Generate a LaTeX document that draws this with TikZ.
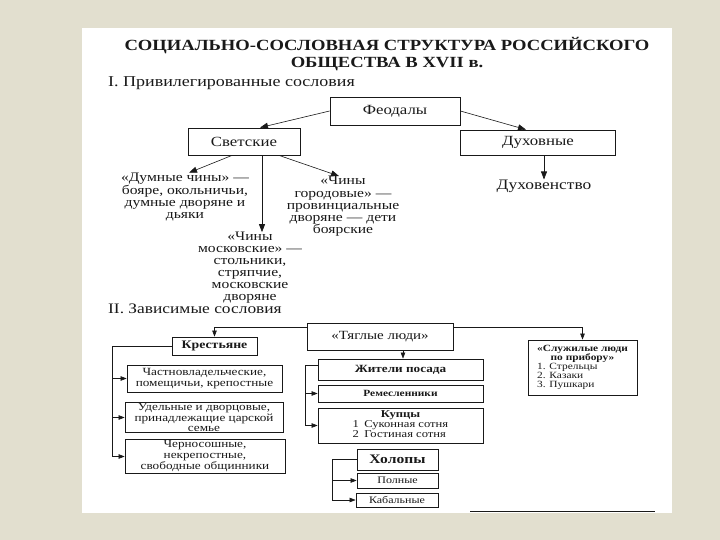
\documentclass[tikz,border=0pt]{standalone}
\usepackage{fontspec}
\setmainfont{Liberation Serif}[FakeStretch=1.2]
\usetikzlibrary{arrows.meta}
\definecolor{bgc}{RGB}{226,223,207}
\definecolor{ink}{RGB}{25,25,25}
\newcommand{\setfs}[2]{\fontsize{#1}{#2}\selectfont}
\begin{document}
\begin{tikzpicture}[x=1pt,y=-1pt,
  every node/.style={text=ink, inner sep=0pt},
  box/.style={draw=ink, line width=0.8pt, align=center, inner sep=1pt},
  lbl/.style={align=center},
  arr/.style={draw=ink, line width=0.6pt, -{Triangle[length=8pt,width=6pt]}},
  arrs/.style={draw=ink, line width=0.6pt, -{Triangle[length=6pt,width=4.5pt]}},
  link/.style={draw=ink, line width=0.6pt}]
\fill[bgc] (0,0) rectangle (720,540);
\fill[white] (82,28) rectangle (672,513);
\useasboundingbox (0,0) rectangle (720,540);

% ---- title
\node[font=\setfs{15.5}{17}\bfseries, align=center] (title) at (387,54)
  {СОЦИАЛЬНО-СОСЛОВНАЯ СТРУКТУРА РОССИЙСКОГО\\ОБЩЕСТВА В XVII в.};

% ---- section I
\node[anchor=west, font=\setfs{15}{16}] (sec1) at (108,83) {I. Привилегированные сословия};
\node[box, minimum width=130, minimum height=28, font=\setfs{14}{15}] (feod) at (395,111) {Феодалы};
\node[box, minimum width=112, minimum height=27, font=\setfs{14}{15}] (svet) at (244,141.5) {Светские};
\node[box, minimum width=155, minimum height=25, font=\setfs{14}{15}] (duh) at (538,142.5) {Духовные};
\node[font=\setfs{14.5}{15}] (duhov) at (544,186) {Духовенство};
\node[lbl, font=\setfs{13}{12}] (dumn) at (185,197) {«Думные чины» —\\бояре, окольничьи,\\думные дворяне и\\дьяки};
\node[lbl, font=\setfs{13}{12.3}] (gorod) at (343,206.5) {«Чины\\городовые» —\\провинциальные\\дворяне — дети\\боярские};
\node[lbl, font=\setfs{13}{12}] (mosk) at (250,268) {«Чины\\московские» —\\стольники,\\стряпчие,\\московские\\дворяне};

\draw[arr] (feod.west) -- ([xshift=16]svet.north);
\draw[arr] (feod.east) -- ([xshift=-12]duh.north);
\draw[arr] (duh.south -| duhov.north) -- (duhov.north);
\draw[arr] ([xshift=-12]svet.south) -- ([xshift=4]dumn.north);
\draw[arr] ([xshift=35]svet.south) -- ([xshift=-4]gorod.north);
\draw[arr] ([xshift=18]svet.south) -- ([xshift=18]svet.south |- mosk.north);

% ---- section II
\node[anchor=west, font=\setfs{14.5}{16}] (sec2) at (108,309) {II. Зависимые сословия};
\node[box, minimum width=146, minimum height=27, font=\setfs{12.5}{14}] (tyag) at (380,336.5) {«Тяглые люди»};
\node[box, minimum width=85, minimum height=18, font=\setfs{11.5}{13}\bfseries] (krest) at (214.5,346) {Крестьяне};
\node[box, minimum width=109, minimum height=55, font=\setfs{9.5}{10}] (slu) at (582.5,367.5)
  {\renewcommand{\arraystretch}{0.9}\begin{tabular}{@{}l@{}}\multicolumn{1}{@{}c@{}}{\bfseries «Служилые люди}\\
   \multicolumn{1}{@{}c@{}}{\bfseries по прибору»}\\1. Стрельцы\\2. Казаки\\3. Пушкари\end{tabular}};
\node[box, minimum width=165, minimum height=21, font=\setfs{11}{12}\bfseries] (zhit) at (400.5,369.5) {Жители посада};
\node[box, minimum width=165, minimum height=17, font=\setfs{9.5}{10}\bfseries] (rem) at (400.5,393.5) {Ремесленники};
\node[box, minimum width=165, minimum height=35, font=\setfs{10.5}{10.5}] (kup) at (400.5,425.5)
  {\renewcommand{\arraystretch}{0.88}\begin{tabular}{@{}l@{}}\multicolumn{1}{@{}c@{}}{\bfseries Купцы}\\
   1\enspace Суконная сотня\\2\enspace Гостиная сотня\end{tabular}};
\node[box, minimum width=81, minimum height=21, font=\setfs{13}{14}\bfseries] (hol) at (397.5,459.5) {Холопы};
\node[box, minimum width=81, minimum height=15, font=\setfs{10}{11}] (poln) at (397.5,480.5) {Полные};
\node[box, minimum width=82, minimum height=14, font=\setfs{10}{11}] (kab) at (397,500) {Кабальные};

\node[box, minimum width=155, minimum height=27, font=\setfs{11}{11.5}] (chast) at (204.5,378.5) {Частновладельческие,\\помещичьи, крепостные};
\node[box, minimum width=158, minimum height=29, font=\setfs{11}{10.5}] (udel) at (204,417.5) {Удельные и дворцовые,\\принадлежащие царской\\семье};
\node[box, minimum width=160, minimum height=33, font=\setfs{11}{11}] (cherno) at (205,456.5) {Черносошные,\\некрепостные,\\свободные общинники};

\draw[arrs] ([yshift=9.5]tyag.west) -| (krest.north);
\draw[arrs] ([yshift=9.5]tyag.east) -| (slu.north);
\draw[arrs] ([xshift=23]tyag.south) -- ([xshift=23]tyag.south |- zhit.north);

\coordinate (kx) at (112,0);
\draw[link] (krest.west) -| (kx |- cherno.west);
\draw[arrs] (kx |- chast.west) -- (chast.west);
\draw[arrs] (kx |- udel.west) -- (udel.west);
\draw[arrs] (kx |- cherno.west) -- (cherno.west);

\coordinate (jx) at (305,0);
\draw[link] ([yshift=4.5]zhit.west) -| (jx |- kup.west);
\draw[arrs] (jx |- rem.west) -- (rem.west);
\draw[arrs] (jx |- kup.west) -- (kup.west);

\coordinate (hx) at (332,0);
\draw[link] (hol.west) -| (hx |- kab.west);
\draw[arrs] (hx |- poln.west) -- (poln.west);
\draw[arrs] (hx |- kab.west) -- (kab.west);

% fragment of a box at the bottom edge
\draw[ink, line width=0.8pt] (470,511.5) -- (655,511.5);
\end{tikzpicture}
\end{document}
